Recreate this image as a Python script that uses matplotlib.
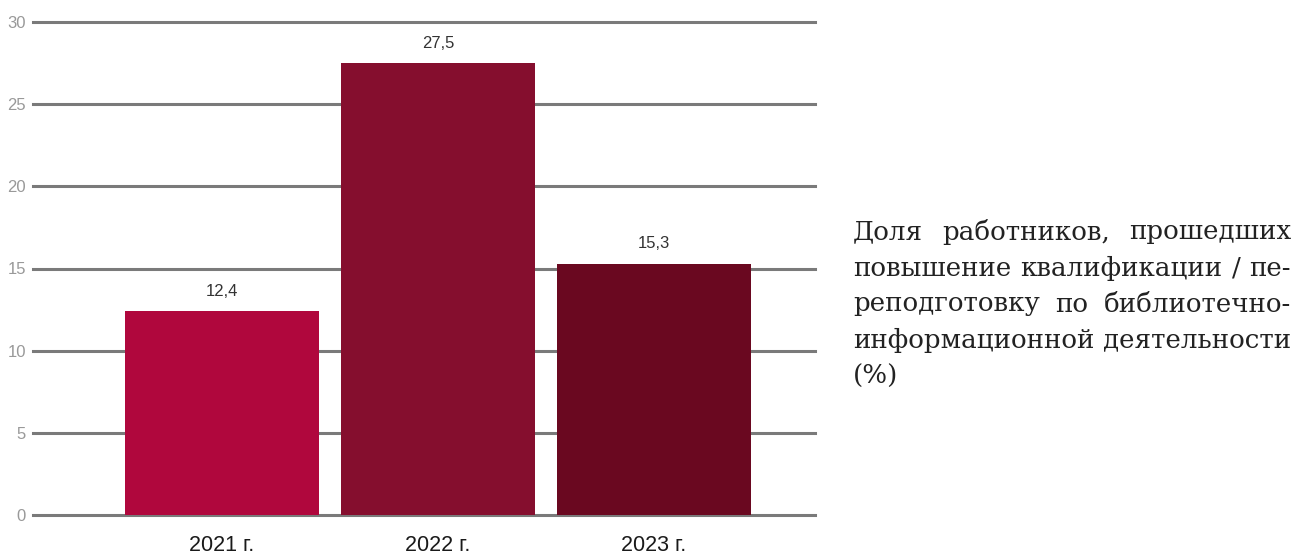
import matplotlib
matplotlib.use('Agg')
import matplotlib.pyplot as plt

years = ['2021 г.', '2022 г.', '2023 г.']
values = [12.4, 27.5, 15.3]
value_labels = ['12,4', '27,5', '15,3']
colors = ['#b0073d', '#850e2e', '#6a0820']
yticks = [0, 5, 10, 15, 20, 25, 30]
caption = ['Доля работников, прошедших',
           'повышение квалификации / пе-',
           'реподготовку по библиотечно-',
           'информационной деятельности',
           '(%)']

W, H = 1299, 557
fig = plt.figure(figsize=(W / 100, H / 100), dpi=100)
y0, y30 = 515, 22
ax = fig.add_axes([33 / W, (H - y0) / H, (815 - 33) / W, (y0 - y30) / H])
ax.set_ylim(0, 30)
ax.set_xlim(-0.875, 2.745)

for t in yticks:
    ax.axhline(t, color='#7a7a7a', lw=2.2, zorder=1, clip_on=False)
x = range(len(years))
ax.bar(x, values, width=0.9, color=colors, zorder=2)
for xi, v, lab in zip(x, values, value_labels):
    ax.text(xi, v + 0.75, lab, ha='center', va='bottom', fontsize=12,
            color='#333333', family='Liberation Sans')

ax.set_yticks(yticks)
ax.set_yticklabels([str(t) for t in yticks], fontsize=12, color='#999999',
                   family='Liberation Sans')
ax.set_xticks(list(x))
ax.set_xticklabels(years, fontsize=15.5, color='#1a1a1a', family='Liberation Sans')
ax.tick_params(axis='y', length=0, pad=5)
ax.tick_params(axis='x', length=0, pad=14.5)
for s in ax.spines.values():
    s.set_visible(False)

# justified caption on the right
fig.canvas.draw()
r = fig.canvas.get_renderer()
x_left, x_right = 853, 1291
fam = 'DejaVu Serif'
probe = fig.text(0, 0, caption[3], fontsize=10, family=fam)
fs = 10 * (x_right - x_left) / probe.get_window_extent(r).width
probe.remove()
for i, line in enumerate(caption):
    yy = (H - 232 - i * 36) / H
    words = line.split(' ')
    if i == len(caption) - 1 or len(words) == 1:
        fig.text(x_left / W, yy, line, fontsize=fs, family=fam,
                 color='#222222', va='center')
        continue
    objs = [fig.text(0, yy, w, fontsize=fs, family=fam,
                     color='#222222', va='center') for w in words]
    widths = [o.get_window_extent(r).width for o in objs]
    gap = (x_right - x_left - sum(widths)) / (len(words) - 1)
    pos = x_left
    for o, wd in zip(objs, widths):
        o.set_x(pos / W)
        pos += wd + gap

fig.savefig('out.png', dpi=100)
